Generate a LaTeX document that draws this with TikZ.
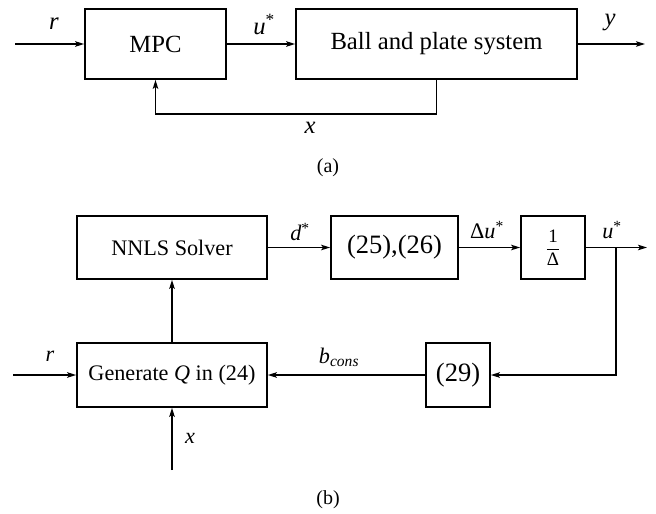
\documentclass[tikz,border=0pt]{standalone}
\usepackage{fontspec}
\setmainfont{Liberation Serif}
\usetikzlibrary{arrows.meta}
\newcommand{\fsA}{\fontsize{24.7}{28}\selectfont}
\newcommand{\fsB}{\fontsize{22.2}{26}\selectfont}
\newcommand{\fsC}{\fontsize{26.5}{30}\selectfont}
\begin{document}
\begin{tikzpicture}[x=1pt,y=-1pt,
  line width=1.7pt,
  arr/.style={-{Stealth[length=9pt,width=5.5pt,inset=2pt]}, line width=1.5pt},
  blockA/.style={draw, line width=1.7pt, rectangle, inner sep=0pt, font=\fsA},
  blockB/.style={draw, line width=1.7pt, rectangle, inner sep=0pt, font=\fsB},
  blockC/.style={draw, line width=1.7pt, rectangle, inner sep=0pt, font=\fsC},
  lblA/.style={inner sep=0pt, font=\fsA},
  lblB/.style={inner sep=0pt, font=\fsB},
  capt/.style={inner sep=0pt, font=\fontsize{20}{24}\selectfont}]
\useasboundingbox (0,0) rectangle (656,514);
% ---------- (a) ----------
\node[blockA, minimum width=141pt, minimum height=70pt] (mpc) at (155.5,44) {MPC};
\node[blockA, minimum width=281pt, minimum height=70pt] (bps) at (436.5,44) {Ball and plate system};
\coordinate (ra) at (15,44);
\coordinate (ya) at (645,44);
\coordinate (fb) at (300,114);
\draw[arr] (ra) -- (mpc.west);
\draw[arr] (mpc.east) -- (bps.west);
\draw[arr] (bps.east) -- (ya);
\draw[arr] (bps.south) |- (fb) -| (mpc.south);
\node[lblA] (lr) at (54,24) {\textit{r}};
\node[lblA] (lu) at (264,24) {\textit{u}\textsuperscript{*}};
\node[lblA] (ly) at (610,22) {\textit{y}};
\node[lblA] (lx) at (310,128) {\textit{x}};
\node[capt] (ca) at (328,168) {(a)};
% ---------- (b) ----------
\node[blockB, minimum width=190pt, minimum height=63pt] (nnls) at (172,247.5) {NNLS Solver};
\node[blockC, minimum width=127pt, minimum height=63pt] (eqa) at (394.5,247.5) {(25),(26)};
\node[blockB, minimum width=64pt, minimum height=63pt] (inv) at (553,247.5)
  {\fontsize{19}{20}\selectfont$\displaystyle\frac{\mbox{1}}{\mbox{Δ}}$};
\node[blockC, minimum width=64pt, minimum height=64pt] (eqb) at (458,375) {(29)};
\node[blockB, minimum width=190pt, minimum height=64pt] (gen) at (172,375) {Generate \textit{Q} in (24)};
\coordinate (ub) at (647,247.5);
\coordinate (br) at (616,247.5);
\coordinate (rb) at (13,375);
\coordinate (xb) at (172,470);
\draw[arr] (nnls.east) -- (eqa.west);
\draw[arr] (eqa.east) -- (inv.west);
\draw[arr] (inv.east) -- (ub);
\draw[arr] (br) |- (eqb.east);
\draw[arr] (eqb.west) -- (gen.east);
\draw[arr] (rb) -- (gen.west);
\draw[arr] (gen.north) -- (nnls.south);
\draw[arr] (xb) -- (gen.south);
\node[lblB] (ld) at (300,232) {\textit{d}\textsuperscript{*}};
\node[lblB] (ldu) at (487,230) {Δ\textit{u}\textsuperscript{*}};
\node[lblB] (lu2) at (612,230) {\textit{u}\textsuperscript{*}};
\node[lblB] (lr2) at (50,356) {\textit{r}};
\node[lblB] (lb) at (339,357) {\textit{b}\textsubscript{\textit{cons}}};
\node[lblB] (lx2) at (190,438) {\textit{x}};
\node[capt] (cb) at (328,500) {(b)};
\end{tikzpicture}
\end{document}
